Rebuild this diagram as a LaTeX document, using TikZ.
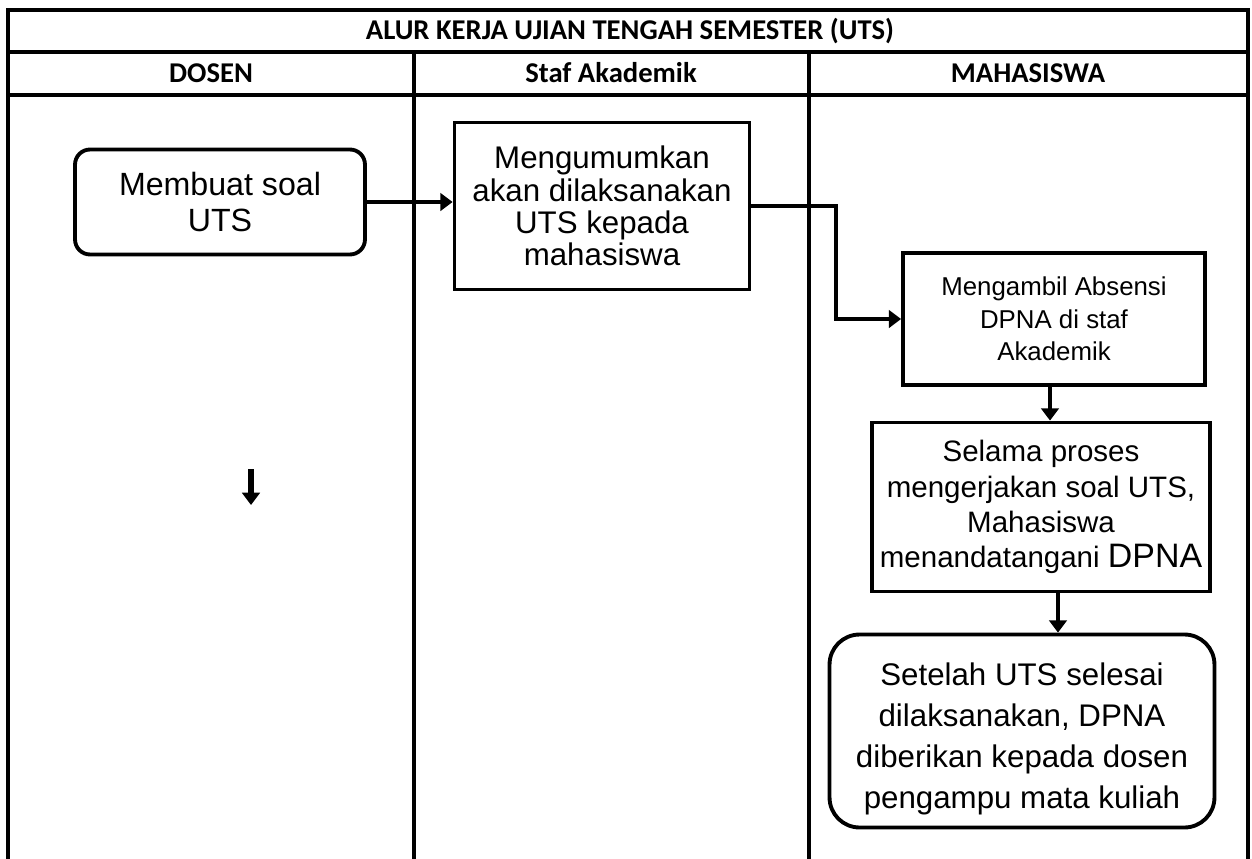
\documentclass[tikz,border=0pt]{standalone}
\usepackage{fontspec}
\setmainfont{Liberation Sans}
\newfontfamily\headfont{Carlito}
\usetikzlibrary{positioning,arrows.meta}
\tikzset{
>={Triangle[length=7pt,width=10pt]},
  lane/.style={line width=2.4pt},
  lanehead/.style={
    font=\headfont\bfseries\fontsize{16.3}{19}\selectfont},
  process/.style={
    rectangle,
    draw=black, line width=2.2pt,
    align=center,
    inner sep=0pt},
  terminal/.style={
    process,
    rounded corners=0.3cm},
  flow/.style={draw, line width=2.3pt, ->},
}

\begin{document}
\begin{tikzpicture}[x=0.02cm,y=-0.02cm]
	\useasboundingbox (0,0) rectangle (1252,859);

	% lanes
	\draw[lane] (8,859) -- (8,10) -- (1248,10) -- (1248,859);
	\draw[lane] (8,52) -- (1248,52);
	\draw[lane] (8,95) -- (1248,95);
	\draw[lane] (414,52) -- (414,859);
	\draw[lane] (809,52) -- (809,859);

	\node[lanehead] (judul) at (630,31) {ALUR KERJA UJIAN TENGAH SEMESTER (UTS)};
	\node[lanehead] (dosen) at (211,73) {DOSEN};
	\node[lanehead] (staf) at (611,73) {Staf Akademik};
	\node[lanehead] (mhs) at (1028,73) {MAHASISWA};

	\node[terminal, minimum width=5.8cm, minimum height=2.1cm,
		font=\fontsize{18.3}{20}\selectfont] (soal) at (220,202) {Membuat soal\\UTS};
	\node[process, minimum width=5.9cm, minimum height=3.34cm,
		font=\fontsize{17.8}{18.4}\selectfont] (umum) at (602,206)
		{Mengumumkan\\akan dilaksanakan\\UTS kepada\\mahasiswa};
	\node[process, minimum width=6.04cm, minimum height=2.64cm,
		font=\fontsize{14.7}{18.6}\selectfont] (absen) at (1054,319)
		{Mengambil Absensi\\DPNA di staf\\Akademik};
	\node[process, minimum width=6.76cm, minimum height=3.38cm,
		font=\fontsize{16.8}{20}\selectfont] (ttd) at (1041,507)
		{Selama proses\\mengerjakan soal UTS,\\Mahasiswa\\menandatangani {\fontsize{19.3}{20}\selectfont DPNA}};
	\node[terminal, rounded corners=0.6cm, minimum width=7.7cm, minimum height=3.86cm,
		font=\fontsize{17.8}{23.3}\selectfont] (serah) at (1022,731)
		{\rule{0pt}{22pt}Setelah UTS selesai\\dilaksanakan, DPNA\\diberikan kepada dosen\\pengampu mata kuliah};

	\coordinate (d1) at (251,469);
	\coordinate (d2) at (251,505);

	\draw[flow] (soal.east) -- (soal.east -| umum.west);
	\draw[flow] (umum.east) -- ++(85,0) |- (absen.west);
	\draw[flow] ([xshift=-0.08cm]absen.south) -- ([xshift=-0.08cm]absen.south |- ttd.north);
	\draw[flow] ([xshift=0.34cm]ttd.south) -- ([xshift=0.34cm]ttd.south |- serah.north);
	\draw[flow, line width=3pt] (d1) -- (d2);
\end{tikzpicture}
\end{document}
